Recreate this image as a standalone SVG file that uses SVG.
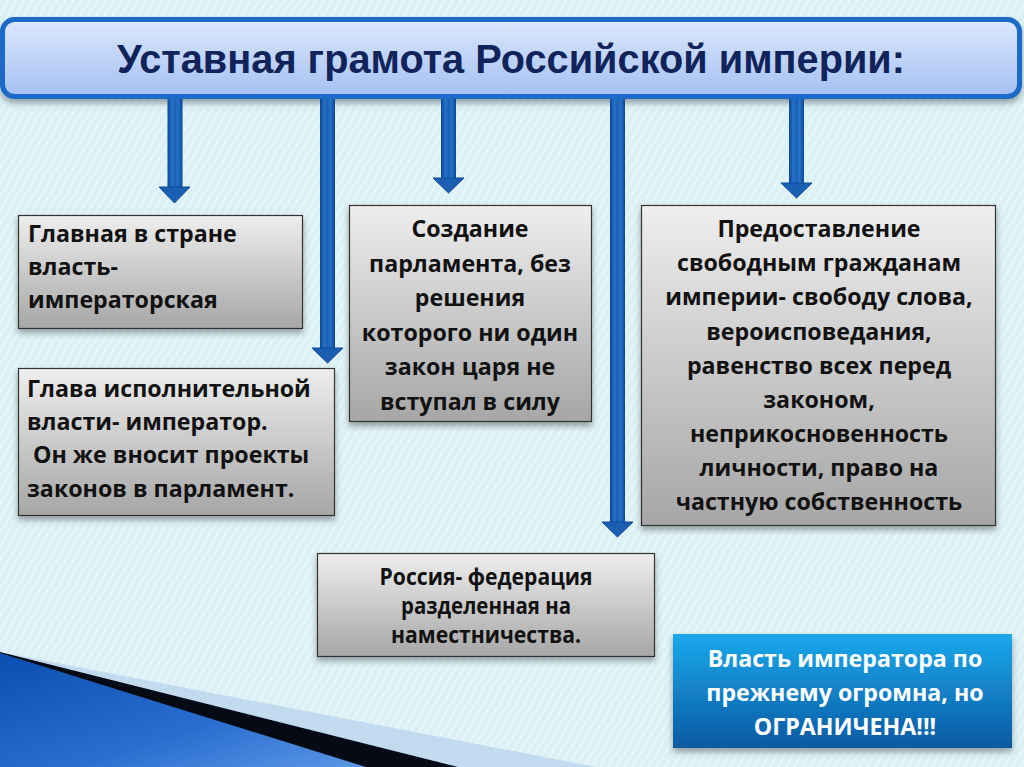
<svg xmlns="http://www.w3.org/2000/svg" width="1024" height="767" viewBox="0 0 1024 767">
<defs>
<pattern id="hatch" width="7" height="7" patternUnits="userSpaceOnUse" patternTransform="rotate(30)">
<rect width="7" height="7" fill="#dcf1f6"/>
<line x1="0" y1="0" x2="0" y2="7" stroke="#eef9fb" stroke-width="2"/>
</pattern>
<linearGradient id="titleG" x1="0" y1="0" x2="0" y2="1">
<stop offset="0" stop-color="#dce8fd"/>
<stop offset="1" stop-color="#a4c0f2"/>
</linearGradient>
<linearGradient id="grayG" x1="0" y1="0" x2="0" y2="1">
<stop offset="0" stop-color="#eeeeee"/>
<stop offset="1" stop-color="#a6a6a6"/>
</linearGradient>
<linearGradient id="blueG" x1="0" y1="0" x2="0" y2="1">
<stop offset="0" stop-color="#1ba8ec"/>
<stop offset="1" stop-color="#0a5aa2"/>
</linearGradient>
<linearGradient id="shaftG" x1="0" y1="0" x2="1" y2="0">
<stop offset="0" stop-color="#0c4894"/>
<stop offset="0.3" stop-color="#2572c8"/>
<stop offset="0.5" stop-color="#1a60b4"/>
<stop offset="0.7" stop-color="#2572c8"/>
<stop offset="1" stop-color="#0c4894"/>
</linearGradient>
<linearGradient id="swooshG" x1="0" y1="0" x2="1" y2="1">
<stop offset="0" stop-color="#0a4fb0"/>
<stop offset="0.6" stop-color="#2a6fd0"/>
<stop offset="1" stop-color="#5b97e6"/>
</linearGradient>
<filter id="shadow" x="-10%" y="-10%" width="120%" height="130%">
<feDropShadow dx="0" dy="4" stdDeviation="3" flood-color="#000" flood-opacity="0.35"/>
</filter>
<style>
.box{fill:url(#grayG);stroke:#333;stroke-width:1.2;filter:url(#shadow)}
.t{font-family:"Open Sans","Noto Sans",sans-serif;font-weight:700;font-size:23.2px;fill:#111}
.c{text-anchor:middle}
.w{fill:#fff}
.shaft{fill:url(#shaftG)}
.head{fill:#1b5fb3;stroke:#0d4a96;stroke-width:1}
</style>
</defs>
<rect width="1024" height="767" fill="url(#hatch)"/>
<!-- bottom-left decoration -->
<polygon points="0,652 596,767 0,767" fill="#bcd6ef" opacity="0.85"/>
<polygon points="0,652 458,767 0,767" fill="#050a14"/>
<polygon points="0,653 366,767 0,767" fill="url(#swooshG)"/>

<g id="title">
<rect x="2.5" y="19.5" width="1017" height="77" rx="12" fill="url(#titleG)" stroke="#1b6bc8" stroke-width="5" filter="url(#shadow)"/>
<text x="511" y="73" text-anchor="middle" font-family="Liberation Sans, Arial, sans-serif" font-weight="700" font-size="41" fill="#10235a" textLength="788" lengthAdjust="spacingAndGlyphs">Уставная грамота Российской империи:</text>
</g>

<g id="connectors">
<rect class="shaft" x="167.5" y="99" width="15" height="89"/>
<polygon class="head" points="159,187 190,187 174.5,203"/>
<rect class="shaft" x="320" y="99" width="15" height="250"/>
<polygon class="head" points="312,348 343,348 327.5,363"/>
<rect class="shaft" x="441" y="99" width="15" height="80"/>
<polygon class="head" points="433,178 464,178 448.5,193"/>
<rect class="shaft" x="610" y="99" width="15" height="424"/>
<polygon class="head" points="602,522 633,522 617.5,537"/>
<rect class="shaft" x="789" y="99" width="15" height="85"/>
<polygon class="head" points="781,183 812,183 796.5,198"/>
</g>

<g id="node-main-power">
<rect class="box" x="18.5" y="215.5" width="284" height="113"/>
<text class="t" x="28" y="242">Главная в стране</text>
<text class="t" x="28" y="275">власть-</text>
<text class="t" x="28" y="308">императорская</text>
</g>

<g id="node-executive">
<rect class="box" x="18.5" y="368.5" width="316" height="147"/>
<text class="t" x="27" y="397">Глава исполнительной</text>
<text class="t" x="27" y="430">власти- император.</text>
<text class="t" x="27" y="463" xml:space="preserve"> Он же вносит проекты</text>
<text class="t" x="27" y="497">законов в парламент.</text>
</g>

<g id="node-parliament">
<rect class="box" x="349.5" y="205.5" width="242" height="216"/>
<text class="t c" x="470" y="237">Создание</text>
<text class="t c" x="470" y="271.5">парламента, без</text>
<text class="t c" x="470" y="306">решения</text>
<text class="t c" x="470" y="340.5">которого ни один</text>
<text class="t c" x="470" y="375">закон царя не</text>
<text class="t c" x="470" y="409.5">вступал в силу</text>
</g>

<g id="node-freedoms">
<rect class="box" x="641.5" y="205.5" width="354" height="320"/>
<text class="t c" x="819" y="237">Предоставление</text>
<text class="t c" x="819" y="271">свободным гражданам</text>
<text class="t c" x="819" y="305">империи- свободу слова,</text>
<text class="t c" x="819" y="339.5">вероисповедания,</text>
<text class="t c" x="819" y="373.5">равенство всех перед</text>
<text class="t c" x="819" y="407.5">законом,</text>
<text class="t c" x="819" y="441.5">неприкосновенность</text>
<text class="t c" x="819" y="476">личности, право на</text>
<text class="t c" x="819" y="510">частную собственность</text>
</g>

<g id="node-federation">
<rect class="box" x="317.5" y="553.5" width="337" height="103"/>
<text class="t c" x="486" y="585" font-size="20" textLength="213" lengthAdjust="spacingAndGlyphs">Россия- федерация</text>
<text class="t c" x="486" y="614" font-size="20" textLength="170" lengthAdjust="spacingAndGlyphs">разделенная на</text>
<text class="t c" x="486" y="643" font-size="20" textLength="190" lengthAdjust="spacingAndGlyphs">наместничества.</text>
</g>

<g id="node-conclusion">
<rect x="673" y="634" width="339" height="114" fill="url(#blueG)" filter="url(#shadow)"/>
<text class="t c w" x="845" y="667" font-size="24">Власть императора по</text>
<text class="t c w" x="845" y="701" font-size="24">прежнему огромна, но</text>
<text class="t c w" x="845" y="735" font-size="24">ОГРАНИЧЕНА!!!</text>
</g>
</svg>
